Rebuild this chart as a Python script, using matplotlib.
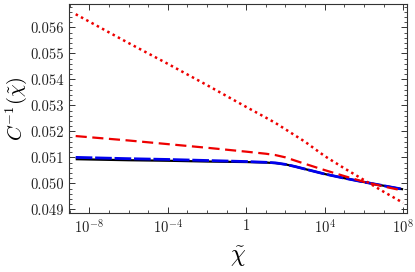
import matplotlib
matplotlib.use("Agg")
import matplotlib.pyplot as plt
from matplotlib.ticker import FixedLocator, NullFormatter

plt.rcParams['font.family'] = 'serif'
plt.rcParams['font.serif'] = ['cmr10', 'DejaVu Serif']
plt.rcParams['mathtext.fontset'] = 'cm'
plt.rcParams['axes.formatter.use_mathtext'] = True

# data
chi = [2e-9, 1e-6, 1e-4, 1e-2, 1, 10, 30, 100, 300, 1e3, 1e4, 1e5, 1e6, 1e7, 1e8]
red_dotted = [0.05651, 0.05540, 0.05460, 0.05378, 0.05294, 0.05253, 0.05233, 0.05208,
              0.05185, 0.05160, 0.05105, 0.05058, 0.05013, 0.04968, 0.04925]
red_dashed = [0.05182, 0.05165, 0.05151, 0.05137, 0.05122, 0.05114, 0.05109, 0.05100,
              0.05088, 0.05075, 0.05051, 0.05028, 0.05006, 0.04988, 0.04972]
black_solid = [0.05093, 0.05089, 0.05087, 0.05084, 0.05082, 0.05080, 0.05078, 0.05073,
               0.05065, 0.05055, 0.05036, 0.05020, 0.05005, 0.04991, 0.04977]
blue_dashed = [0.05100, 0.05095, 0.05092, 0.05088, 0.05084, 0.05081, 0.05079, 0.05073,
               0.05065, 0.05055, 0.05036, 0.05020, 0.05005, 0.04991, 0.04977]

xticks = [1e-8, 1e-4, 1, 1e4, 1e8]
xticklabels = ['$10^{-8}$', '$10^{-4}$', '$1$', '$10^{4}$', '$10^{8}$']
yticks = [0.049, 0.050, 0.051, 0.052, 0.053, 0.054, 0.055, 0.056]
yticklabels = ['0.049', '0.050', '0.051', '0.052', '0.053', '0.054', '0.055', '0.056']

fig = plt.figure(figsize=(4.15, 2.72), dpi=100)
ax = fig.add_axes([0.166, 0.217, 0.815, 0.768])

ax.plot(chi, black_solid, color='black', lw=1.6, solid_capstyle='butt')
ax.plot(chi, blue_dashed, color='#0000ee', lw=2.0, dashes=(6, 1))
ax.plot(chi, red_dashed, color='#ee0000', lw=1.6, dashes=(5, 2.5))
ax.plot(chi, red_dotted, color='#ee0000', lw=1.8, dashes=(1.0, 1.4))

ax.set_xscale('log')
ax.set_xlim(9e-10, 1.6e8)
ax.set_ylim(0.04886, 0.0569)

ax.xaxis.set_major_locator(FixedLocator(xticks))
ax.set_xticklabels(xticklabels)
ax.xaxis.set_minor_locator(FixedLocator([10.0**k for k in range(-9, 9)]))
ax.xaxis.set_minor_formatter(NullFormatter())

ax.set_yticks(yticks)
ax.set_yticklabels(yticklabels)
ax.yaxis.set_minor_locator(FixedLocator([0.049 + 0.0002 * k for k in range(-1, 41)]))

ax.tick_params(which='both', direction='in', top=True, right=True, labelsize=10.5, colors='#333333')
ax.tick_params(which='major', length=4, width=0.7)
ax.tick_params(which='minor', length=2, width=0.6)
for sp in ax.spines.values():
    sp.set_color('#333333')
    sp.set_linewidth(0.8)
for lab in ax.get_xticklabels() + ax.get_yticklabels():
    lab.set_color('#222222')

ax.set_xlabel(r'$\tilde{\chi}$', fontsize=17, labelpad=6)
ax.set_ylabel(r'$C^{-1}(\tilde{\chi})$', fontsize=14.5, labelpad=1)

fig.savefig('out.png', dpi=100)
